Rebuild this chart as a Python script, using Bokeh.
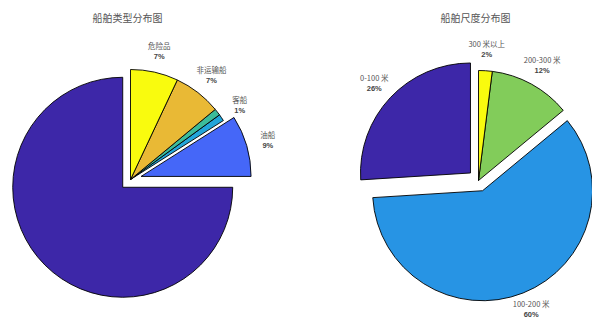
import math
from bokeh.plotting import figure
from bokeh.models import Range1d, ColumnDataSource
from bokeh.core.properties import value
from bokeh.embed import file_html
from bokeh.resources import INLINE

# ---- data ----
type_title = "船舶类型分布图"
type_names = ["", "油船", "客船", "", "非运输船", "危险品"]
type_values = [75, 9, 1, 1, 7, 7]
type_explode = [1, 1, 0, 0, 0, 0]
type_colors = ["#3D27A8", "#4567F8", "#22A5DA", "#3CBC9A", "#E9B935", "#F9FB0E"]

size_title = "船舶尺度分布图"
size_names = ["0-100 米", "100-200 米", "200-300 米", "300 米以上"]
size_values = [26, 60, 12, 2]
size_explode = [1, 1, 0, 0]
size_colors = ["#3D27A8", "#2794E4", "#82CC5A", "#F9FB0E"]

W, H = 592, 320
R = 110

p = figure(width=W, height=H, output_backend="svg", toolbar_location=None,
           x_range=Range1d(0, W), y_range=Range1d(0, H), min_border=0)
p.axis.visible = False
p.grid.visible = False
p.outline_line_color = None
p.background_fill_color = "white"
p.border_fill_color = "white"

CJK = value("Noto Sans CJK SC")


def draw_pie(cx, cy, names, values, explode, colors, title):
    total = float(sum(values))
    theta = math.pi / 2
    xs, ys, starts, ends, fills = [], [], [], [], []
    lx, ly, ltxt, px, py, ptxt = [], [], [], [], [], []
    for nm, v, ex, c in zip(names, values, explode, colors):
        frac = v / total
        a0 = theta
        a1 = theta + frac * 2 * math.pi
        mid = (a0 + a1) / 2
        ox = 0.1 * R * math.cos(mid) if ex else 0.0
        oy = 0.1 * R * math.sin(mid) if ex else 0.0
        xs.append(cx + ox)
        ys.append(cy + oy)
        starts.append(a0)
        ends.append(a1)
        fills.append(c)
        if nm:
            tx = cx + ox + 1.2 * R * math.cos(mid)
            ty = cy + oy + 1.2 * R * math.sin(mid)
            ty = max(ty, 11.5)  # keep the label inside the page
            lx.append(tx)
            ly.append(ty + 5.5)
            ltxt.append(nm)
            px.append(tx)
            py.append(ty - 5.5)
            ptxt.append("%d%%" % round(100 * frac))
        theta = a1
    src = ColumnDataSource(dict(x=xs, y=ys, s=starts, e=ends, c=fills))
    p.wedge(x="x", y="y", radius=R, start_angle="s", end_angle="e", fill_color="c",
            line_color="black", line_width=0.9, source=src)
    p.text(x=lx, y=ly, text=ltxt, text_font=CJK, text_font_size="7.5px",
           text_color="#555555", text_align="center", text_baseline="middle")
    p.text(x=px, y=py, text=ptxt, text_font=value("Liberation Sans"), text_font_size="7.5px",
           text_font_style="bold", text_color="#444444", text_align="center", text_baseline="middle")
    p.text(x=[cx - 3], y=[H - 17], text=[title], text_font=CJK, text_font_size="10px",
           text_color="#555555", text_align="center", text_baseline="middle")


draw_pie(130, H - 179, type_names, type_values, type_explode, type_colors, type_title)
draw_pie(478, H - 180, size_names, size_values, size_explode, size_colors, size_title)

open("out.html", "w").write(file_html(p, INLINE))
